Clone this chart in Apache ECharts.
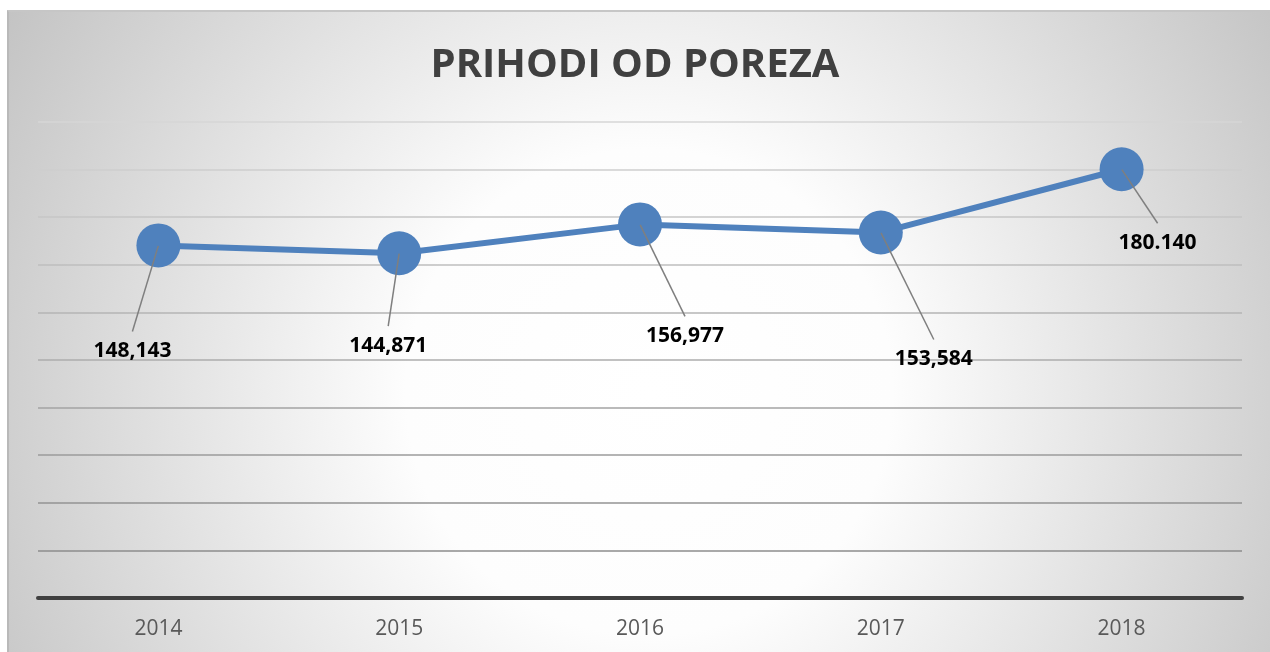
<!DOCTYPE html>
<html>
<head>
<meta charset="utf-8">
<title>Prihodi od poreza</title>
<script src="https://cdn.jsdelivr.net/npm/echarts@6/dist/echarts.min.js"></script>
<style>
    html, body { margin: 0; padding: 0; background: #ffffff; }
    #panel {
        position: absolute; left: 7px; top: 10px; width: 1263px; height: 642px;
        box-sizing: border-box;
        border-left: 2px solid #b9b9b9; border-top: 2px solid #c6c6c6;
        background: radial-gradient(circle 760px at 640px 380px, #ffffff 0%, #fdfdfd 32%, #c2c2c2 100%);
    }
    #chart { position: absolute; left: 0; top: 0; width: 1270px; height: 652px; }
</style>
</head>
<body>
<div id="panel"></div>
<div id="chart"></div>
<script>
// podaci
const years = ['2014', '2015', '2016', '2017', '2018'];
const revenue = [148143, 144871, 156977, 153584, 180140];
const revenueLabels = ['148,143', '144,871', '156,977', '153,584', '180.140'];

document.addEventListener('DOMContentLoaded', () => {
    const myChart = echarts.init(document.getElementById('chart'));

    // pomak oznaka od točke (kao u Excelu)
    const labelOffsets = [[-26, 106], [-11, 93], [45, 112], [53, 127], [36, 74]];

    const option = {
        animation: false,
        backgroundColor: 'transparent',
        title: {
            text: 'PRIHODI OD POREZA',
            left: 'center',
            top: 41,
            textStyle: {
                fontFamily: 'Open Sans',
                fontSize: 40,
                fontWeight: 'bold',
                color: '#404040',
                lineHeight: 40
            }
        },
        grid: { left: 38, right: 28, top: 122, bottom: 54 },
        xAxis: {
            type: 'category',
            data: years,
            axisLine: { lineStyle: { color: '#404040', width: 4 } },
            axisTick: { show: false },
            axisLabel: {
                margin: 21,
                fontFamily: 'Open Sans',
                fontSize: 21,
                lineHeight: 21,
                color: '#595959'
            }
        },
        yAxis: {
            type: 'value',
            min: 0,
            max: 200000,
            interval: 20000,
            axisLabel: { show: false },
            axisLine: { show: false },
            axisTick: { show: false },
            splitLine: {
                lineStyle: {
                    width: 1.5,
                    // od dna prema vrhu, sve svjetlije
                    color: ['#7f7f7f', '#8c8c8c', '#939393', '#9b9b9b', '#a3a3a3', '#acacac',
                            '#b5b5b5', '#bebebe', '#c6c6c6', '#cecece', '#d6d6d6']
                }
            }
        },
        series: [
            {
                name: 'Prihodi',
                type: 'line',
                data: revenue,
                symbol: 'circle',
                symbolSize: 44,
                lineStyle: { color: '#4f81bd', width: 6 },
                itemStyle: { color: '#4f81bd' },
                z: 2
            },
            {
                // samo oznake s linijama vodilicama
                name: 'Oznake',
                type: 'line',
                data: revenue,
                symbol: 'circle',
                symbolSize: 1,
                silent: true,
                lineStyle: { opacity: 0, width: 0 },
                itemStyle: { color: 'rgba(0,0,0,0)' },
                z: 5,
                label: {
                    show: true,
                    position: 'inside',
                    formatter: p => revenueLabels[p.dataIndex],
                    fontFamily: 'Open Sans',
                    fontSize: 21,
                    fontWeight: 'bold',
                    lineHeight: 40,
                    color: '#000000'
                },
                labelLine: {
                    show: true,
                    length2: 0,
                    lineStyle: { color: '#7f7f7f', width: 1.5 }
                },
                labelLayout: params => ({
                    dx: labelOffsets[params.dataIndex][0],
                    dy: labelOffsets[params.dataIndex][1]
                })
            }
        ]
    };

    myChart.setOption(option);

    window.addEventListener('resize', () => {
        myChart.resize();
    });
});
</script>
</body>
</html>
